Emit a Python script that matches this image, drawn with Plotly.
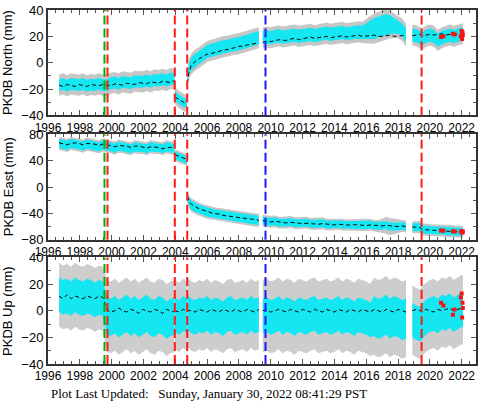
import plotly.graph_objects as go

# ---------------- data ----------------
# sample times (decimal years); segments start at the indices in SEG_START
T = [1996.70, 1996.95, 1997.20, 1997.45, 1997.70, 1997.95, 1998.20, 1998.45, 1998.70, 1998.95,
     1999.20, 1999.45, 1999.70, 1999.95, 2000.20, 2000.45, 2000.70, 2000.95, 2001.20, 2001.45,
     2001.70, 2001.95, 2002.20, 2002.45, 2002.70, 2002.95, 2003.20, 2003.45, 2003.70, 2003.95,
     2003.98, 2004.25, 2004.50, 2004.73,
     2004.76, 2004.85, 2005.00, 2005.25, 2005.50, 2005.75, 2006.00, 2006.25, 2006.50, 2006.75,
     2007.00, 2007.25, 2007.50, 2007.75, 2008.00, 2008.25, 2008.50, 2008.75, 2009.00, 2009.25,
     2009.50, 2009.75, 2010.00, 2010.25, 2010.50, 2010.75, 2011.00, 2011.25, 2011.50, 2011.75,
     2012.00, 2012.25, 2012.50, 2012.75, 2013.00, 2013.25, 2013.50, 2013.75, 2014.00, 2014.25,
     2014.50, 2014.75, 2015.00, 2015.25, 2015.50, 2015.75, 2016.00, 2016.25, 2016.50, 2016.75,
     2017.00, 2017.25, 2017.50, 2017.75, 2018.00, 2018.25, 2018.50,
     2018.90, 2019.15, 2019.40, 2019.50, 2019.75, 2020.00, 2020.25, 2020.50, 2020.75, 2021.00,
     2021.25, 2021.50, 2021.75, 2022.00, 2022.08]
SEG_START = [0, 30, 34, 54, 91]

# North (mm): daily-solution centre, cyan spread, grey (error bar) spread, model
NORTH = [-17, -16, -17.5, -16, -16.5, -17, -16, -17.5, -16.5, -17, -16, -17, -17, -15.5, -15,
         -16, -14.5, -15, -15.5, -14, -14.5, -14.5, -13.5, -14.5, -13, -13.5, -12.5, -13.5, -12, -12.5,
         -25, -28, -30, -31,
         -14, -5, -1, 2, 4, 6, 8.5, 9.5, 10.5, 11, 12, 12.5, 13.5, 14, 14.5, 15.5, 16.5, 17, 18, 19,
         19, 19.5, 19, 20, 20.5, 19.5, 20, 20.5, 21, 20, 20.5, 21, 21.5, 20.5, 21, 22, 22.5, 21.5,
         22, 22.5, 23, 22, 22.5, 23, 23.5, 23, 24, 25, 26, 27, 28, 29, 29, 28, 27, 25, 21,
         21, 20.5, 19, 18, 20, 21, 20, 17, 19, 20, 21, 20, 21, 22, 22]
NORTH_CYAN = [4.5] * 30 + [3.5] * 4 + [3, 4.5] + [5] * 18 + [5] * 26 + [6, 7, 8, 8, 8, 8, 7, 6, 5, 5, 5] + [5] * 15
NORTH_GREY = [8] * 30 + [6.5] * 4 + [6, 7.5] + [8] * 18 + [8] * 26 + [9.5, 10.5, 11.5, 11.5, 11.5, 11.5, 10.5, 9.5, 8.5, 8.5, 8.5] + [8] * 15
NORTH_MODEL = [-17, -18, -16.5, -17.5, -18, -16.5, -17.5, -18, -16.5, -17, -17.5, -16.5, -17, -17.5, -16,
               -16.5, -17, -15.5, -16, -16.5, -15, -15.5, -16, -14.5, -15, -15.5, -14, -14.5, -15, -13.5,
               -26, -28, -30, -31.5,
               -15.5, -8, -2, 1, 3, 4.5, 6.5, 7, 8, 8.5, 9.5, 10, 10.5, 11.5, 12.5, 12.5, 13.5, 14, 14.5, 15,
               15.5, 16.5, 16, 16.5, 17.5, 17, 17, 18, 18.5, 17.5, 18, 19, 19.5, 18.5, 19, 19.5, 20, 19,
               19.5, 20, 20.5, 19.5, 20, 20.5, 21, 20, 20, 20.5, 21, 20, 20, 20.5, 21, 20, 20, 20.5, 21,
               20.5, 21, 21.5, 20.5, 21, 21.5, 21, 21.5, 22, 21, 21.5, 22, 21.5, 22, 22]

# East (mm)
EAST = [66, 65, 63, 66, 65, 64, 62, 65, 64, 63, 61, 64, 62, 61, 59, 62, 61, 60, 58, 61, 60, 60, 58,
        61, 60, 60, 58, 61, 59, 58,
        48, 45, 43, 41,
        -14, -22, -27, -31, -34, -36, -38, -40, -41, -42, -43, -44, -45, -46, -47, -47.5, -48.5, -49, -50, -50.5,
        -51, -52, -53, -52, -54, -54, -54, -53, -55, -55, -55, -54, -56, -56, -56, -55, -57, -57, -57,
        -56, -57, -58, -58, -57, -58, -58, -58, -57, -59, -59, -59, -58, -60, -60, -60, -59, -60,
        -61, -61, -61, -64, -65, -65, -66, -66, -66, -67, -67, -67, -68, -68, -68]
EAST_CYAN = [7] * 30 + [6] * 4 + [7] * 20 + [6] * 37 + [6] * 15
EAST_GREY = [10] * 30 + [9] * 4 + [10] * 20 + [9] * 30 + [11, 13, 13, 12, 10, 9, 9] + [9] * 15
EAST_MODEL = [67, 66, 64, 66, 67, 66, 64, 66, 66, 65, 63, 65, 64, 63, 61, 63, 63, 62, 60, 62, 62, 61,
              59, 61, 61, 60, 58, 60, 60, 59,
              49, 46, 44, 42,
              -14, -21, -26, -30, -33, -35, -37.5, -39, -40.5, -41, -43, -44, -44.5, -45.5, -47, -47.5,
              -48, -48.5, -50, -50.5,
              -51, -51.5, -53, -52, -53, -54, -54.5, -53.5, -54.5, -55.5, -55.5, -55, -55.5, -56, -56.5,
              -55.5, -56.5, -57, -57.5, -56.5, -57, -57.5, -58, -57, -57.5, -58, -58.5, -57.5, -58,
              -58.5, -59, -58, -59, -59.5, -60, -59, -60,
              -60.5, -61, -61.5, -64.5, -65, -65.5, -66, -66, -66.5, -67, -67, -67.5, -68, -68, -68.5]

# Up (mm)
UP = [12, 10, 11, 9, 12, 10, 9, 11, 10, 8, 10, 9, -4, -5, -3, -6, -4, -2, -5, -3, -6, -4, -2, -5,
      -6, -3, -4, -7, -5, -4,
      -3, -5, -2, -4,
      -3, -2, -4, -5, -3, -4, -2, -5, -3, -4, -6, -3, -2, -5, -4, -3, -5, -2, -4, -3,
      -4, -3, -5, -4, -2, -5, -3, -4, -6, -3, -4, -5, -3, -2, -5, -4, -3, -5, -4, -2, -5, -3, -4,
      -6, -3, -4, -5, -7, -4, -6, -5, -3, -6, -4, -5, -7, -6,
      -7, -9, -10, -8, -5, -3, -2, -4, -1, -2, 0, -3, -1, 1, 0]
UP_CYAN = [13] * 12 + [14] * 18 + [13] * 4 + [13] * 20 + [13] * 28 + [15] * 9 + [13] * 15
UP_GREY = [24] * 12 + [27] * 18 + [26] * 4 + [26] * 20 + [27] * 28 + [29] * 9 + [26] * 15
UP_MODEL = [11, 9, 12, 9, 11, 10, 9, 11, 10, 9, 11, 10, 1, -1, 0, 2, 0, -1, 1, 0, -2, 1, 0, -1,
            1, 0, -2, 1, 0, -1,
            0, -1, 1, 0,
            1, 0, 0, -1, 1, 0, -1, 1, 0, -1, 1, 0, -1, 1, 0, -1, 1, 0, -1, 1,
            0, 1, -1, 0, 1, 0, -1, 1, 0, -1, 1, 0, -1, 1, 0, -1, 1, 0, -1, 1, 0, -1, 1, 0, -1, 1,
            0, -1, 1, 0, -1, 1, 0, -1, 1, 0, -1,
            0, 1, 0, -1, 1, 0, -1, 1, 0, 1, 2, 0, 1, 2, 1]

# rapid (red) solutions
RED_T = [2020.70, 2020.85, 2021.45, 2021.55, 2021.95, 2022.00, 2022.03, 2022.05, 2022.07]
RED_N = [19.5, 20, 22, 21.5, 20, 24, 18, 23, 21]
RED_E = [-66, -66.5, -67, -67.5, -68, -67, -69, -68.5, -67.5]
RED_U = [6, 4, -3, 1, 10, 13, -5, 6, 2]

# event lines
EVENT_T = [1999.55, 1999.74, 2003.97, 2004.75, 2009.67, 2019.48]
EVENT_COLOR = ["#00b000", "#ff1a1a", "#ff1a1a", "#ff1a1a", "#1a1aff", "#ff1a1a"]

Y_TITLES = ["PKDB North (mm)", "PKDB East (mm)", "PKDB Up (mm)"]
Y_RANGES = [(-40, 40), (-80, 80), (-40, 40)]
Y_DTICK = [20, 40, 20]
UPDATED = "Plot Last Updated:   Sunday, January 30, 2022 08:41:29 PST"

# ---------------- helpers ----------------
BOUNDS = SEG_START + [len(T)]


def band(t, c, h):
    xs, ys = [], []
    for a, b in zip(BOUNDS[:-1], BOUNDS[1:]):
        tt, cc, hh = t[a:b], c[a:b], h[a:b]
        up = [ci + hi for ci, hi in zip(cc, hh)]
        lo = [ci - hi for ci, hi in zip(cc, hh)]
        xs += tt + tt[::-1] + [tt[0], None]
        ys += up + lo[::-1] + [up[0], None]
    return xs, ys


def broken(t, v):
    xs, ys = [], []
    for a, b in zip(BOUNDS[:-1], BOUNDS[1:]):
        xs += t[a:b] + [None]
        ys += v[a:b] + [None]
    return xs, ys


# ---------------- figure ----------------
fig = go.Figure()
panels = [
    (NORTH, NORTH_CYAN, NORTH_GREY, NORTH_MODEL, RED_N, "#c6c6c6"),
    (EAST, EAST_CYAN, EAST_GREY, EAST_MODEL, RED_E, "#c6c6c6"),
    (UP, UP_CYAN, UP_GREY, UP_MODEL, RED_U, "#cdcdcd"),
]
CYAN = "#14e6f2"
FRAME = "#333333"

# plot area pixel geometry: 48..478 x, 5..364 y
domains = [[0.702, 1.0], [0.351, 0.649], [0.0, 0.301]]

for i, (c, cy, gr, mo, red, grey) in enumerate(panels):
    xa = "x" if i == 0 else f"x{i+1}"
    ya = "y" if i == 0 else f"y{i+1}"
    gx, gy = band(T, c, gr)
    fig.add_trace(go.Scatter(x=gx, y=gy, xaxis=xa, yaxis=ya, mode="lines", fill="toself",
                             fillcolor=grey, line=dict(width=0, color=grey), hoverinfo="skip"))
    cx, cyy = band(T, c, cy)
    fig.add_trace(go.Scatter(x=cx, y=cyy, xaxis=xa, yaxis=ya, mode="lines", fill="toself",
                             fillcolor=CYAN, line=dict(width=0, color=CYAN), hoverinfo="skip"))
    mx, my = broken(T, mo)
    fig.add_trace(go.Scatter(x=mx, y=my, xaxis=xa, yaxis=ya, mode="lines",
                             line=dict(color="black", width=1, dash="4px,3px")))
    fig.add_trace(go.Scatter(x=RED_T, y=red, xaxis=xa, yaxis=ya, mode="markers",
                             marker=dict(color="#ff1010", size=4, symbol="square")))
    for et, ec in zip(EVENT_T, EVENT_COLOR):
        fig.add_shape(type="line", xref=xa, yref=f"{ya} domain", x0=et, x1=et, y0=0, y1=1,
                      line=dict(color=ec, width=2, dash="9px,4px"))

    ax = dict(range=[1996, 2022.9], tick0=1996, dtick=2, ticks="inside", ticklen=5,
              tickcolor="#555", tickwidth=1, showline=True, linewidth=2, linecolor=FRAME,
              mirror="allticks", showgrid=False, zeroline=False, anchor=ya,
              tickfont=dict(size=12, color="black"),
              minor=dict(dtick=0.5, ticks="inside", ticklen=3, tickcolor="#555", showgrid=False))
    ay = dict(range=list(Y_RANGES[i]), dtick=Y_DTICK[i], ticks="inside", ticklen=5,
              tickcolor="#555", tickwidth=1, showline=True, linewidth=2, linecolor=FRAME,
              mirror="allticks", showgrid=False, zeroline=False, anchor=xa, domain=domains[i],
              tickfont=dict(size=13, color="black"),
              minor=dict(dtick=Y_DTICK[i] / 2, ticks="inside", ticklen=3, tickcolor="#555",
                         showgrid=False))
    fig.layout["xaxis" if i == 0 else f"xaxis{i+1}"] = ax
    fig.layout["yaxis" if i == 0 else f"yaxis{i+1}"] = ay
    fig.add_annotation(text=Y_TITLES[i], xref="paper", yref="paper", x=-40 / 430,
                       y=sum(domains[i]) / 2, textangle=-90, showarrow=False,
                       xanchor="center", yanchor="middle", font=dict(size=13, color="black"))

fig.add_annotation(text=UPDATED, xref="paper", yref="paper", x=1 / 430, y=-30 / 359,
                   xanchor="left", yanchor="middle", showarrow=False,
                   font=dict(family="Liberation Serif, Times New Roman, serif", size=13, color="black"))

fig.update_layout(width=481, height=404, margin=dict(l=48, r=3, t=5, b=40),
                  plot_bgcolor="white", paper_bgcolor="white", showlegend=False,
                  font=dict(family="Liberation Sans, Arial, sans-serif", size=12, color="black"))

fig.write_html("out.html", config={"displayModeBar": False},
               post_script="document.body.style.margin='0';document.body.style.overflow='hidden';")
